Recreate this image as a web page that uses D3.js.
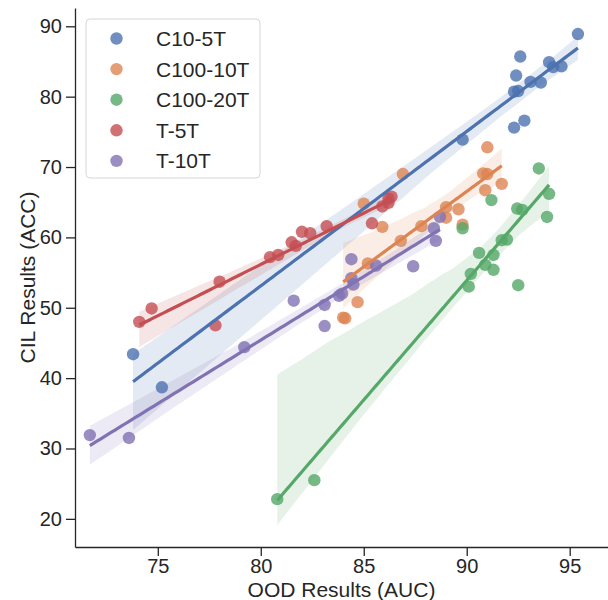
<!DOCTYPE html>
<html>
<head>
<meta charset="utf-8">
<script src="https://cdn.jsdelivr.net/npm/d3@7"></script>
<style>
  body { margin: 0; background: #fff; }
  svg { display: block; font-family: "Liberation Sans", Arial, sans-serif; }
</style>
</head>
<body>
<div id="chart"></div>
<script>
// values
const seriesNames = ["C10-5T", "C100-10T", "C100-20T", "T-5T", "T-10T"];
const seriesColors = ["#4C72B0", "#DD8452", "#55A868", "#C44E52", "#8172B3"];

const c10_5tX = [73.8, 75.2, 89.8, 92.3, 92.8, 92.3, 92.5, 92.4, 92.6, 93.1, 93.6, 94.0, 94.2, 94.6, 95.4];
const c10_5tY = [43.4, 38.7, 73.9, 75.6, 76.6, 80.7, 80.8, 83.0, 85.7, 82.1, 82.0, 84.9, 84.2, 84.3, 88.9];

const c100_10tX = [84.0, 84.1, 84.7, 85.2, 85.0, 85.9, 86.8, 86.9, 87.8, 89.0, 89.6, 89.0, 89.8, 90.8, 91.0, 91.0, 90.9, 91.7];
const c100_10tY = [48.6, 48.5, 50.8, 56.3, 64.8, 61.5, 59.5, 69.0, 61.6, 64.3, 64.0, 62.8, 61.8, 69.1, 69.0, 72.8, 66.7, 67.6];

const c100_20tX = [80.8, 82.6, 89.8, 90.1, 90.2, 90.6, 90.9, 91.3, 91.3, 91.2, 91.7, 91.95, 92.5, 92.45, 92.7, 93.5, 94.0, 93.9];
const c100_20tY = [22.8, 25.5, 61.3, 53.0, 54.8, 57.8, 56.1, 57.5, 55.4, 65.3, 59.6, 59.7, 53.2, 64.1, 63.9, 69.8, 66.2, 62.9];

const t5tX = [74.1, 74.7, 78.0, 77.8, 80.45, 80.85, 81.5, 81.7, 82.0, 82.4, 83.2, 85.4, 85.9, 86.2, 86.35, 86.2];
const t5tY = [48.0, 49.9, 53.7, 47.5, 57.2, 57.5, 59.3, 58.8, 60.8, 60.6, 61.6, 62.0, 64.4, 64.9, 65.8, 65.5];

const t10tX = [71.7, 73.6, 79.2, 81.6, 83.1, 83.1, 83.8, 83.95, 84.4, 84.5, 84.4, 85.6, 87.4, 88.4, 88.5, 88.7];
const t10tY = [31.9, 31.5, 44.4, 51.0, 50.4, 47.4, 51.7, 52.0, 54.2, 53.3, 56.9, 56.0, 55.9, 61.3, 59.5, 62.9];

const xTicks = [75, 80, 85, 90, 95];
const yTicks = [20, 30, 40, 50, 60, 70, 80, 90];

const seriesX = [c10_5tX, c100_10tX, c100_20tX, t5tX, t10tX];
const seriesY = [c10_5tY, c100_10tY, c100_20tY, t5tY, t10tY];

const series = seriesNames.map((name, i) => ({
    name: name,
    color: seriesColors[i],
    points: seriesX[i].map((x, j) => ({ x: x, y: seriesY[i][j] }))
}));

function ols(points) {
    const mx = d3.mean(points, d => d.x);
    const my = d3.mean(points, d => d.y);
    let sxx = 0, sxy = 0;
    points.forEach(d => { sxx += (d.x - mx) ** 2; sxy += (d.x - mx) * (d.y - my); });
    if (sxx === 0) return null;
    const b = sxy / sxx;
    return { a: my - b * mx, b: b };
}

// regression line + 95% bootstrap band, the way regplot does it (fixed seed)
const rng = d3.randomLcg(0.1234);
function fitLine(points) {
    const n = points.length;
    const fit = ols(points);
    const [x0, x1] = d3.extent(points, d => d.x);
    const grid = d3.range(100).map(i => x0 + (x1 - x0) * i / 99);
    const boots = [];
    for (let k = 0; k < 1000; k++) {
        const sample = d3.range(n).map(() => points[Math.floor(rng() * n)]);
        const f = ols(sample);
        if (f) boots.push(grid.map(x => f.a + f.b * x));
    }
    return grid.map((x, j) => {
        const col = boots.map(r => r[j]).sort(d3.ascending);
        return {
            x: x,
            y: fit.a + fit.b * x,
            lo: d3.quantileSorted(col, 0.025),
            hi: d3.quantileSorted(col, 0.975)
        };
    });
}

const W = 608, H = 600;
const margin = { top: 8, right: 0, bottom: 53, left: 75 };
const ink = "#262626";

const svg = d3.select("#chart").append("svg")
    .attr("width", W)
    .attr("height", H);

const x = d3.scaleLinear().domain([70.98, 96.86]).range([margin.left, W - margin.right]);
const y = d3.scaleLinear().domain([16.0, 92.6]).range([H - margin.bottom, margin.top]);

const fits = series.map(s => fitLine(s.points));

const area = d3.area().x(d => x(d.x)).y0(d => y(d.lo)).y1(d => y(d.hi));
const line = d3.line().x(d => x(d.x)).y(d => y(d.y));

// scatter and bands first (same layer), then the regression lines on top
series.forEach((s, i) => {
    svg.append("g")
        .selectAll("circle")
        .data(s.points)
        .join("circle")
        .attr("cx", d => x(d.x))
        .attr("cy", d => y(d.y))
        .attr("r", 6.2)
        .attr("fill", s.color)
        .attr("fill-opacity", 0.8);

    svg.append("path")
        .datum(fits[i])
        .attr("d", area)
        .attr("fill", s.color)
        .attr("fill-opacity", 0.15);
});

series.forEach((s, i) => {
    svg.append("path")
        .datum(fits[i])
        .attr("d", line)
        .attr("fill", "none")
        .attr("stroke", s.color)
        .attr("stroke-width", 3.2);
});

// axes
const xAxis = svg.append("g")
    .attr("transform", `translate(0,${H - margin.bottom})`)
    .call(d3.axisBottom(x).tickValues(xTicks).tickSize(9).tickSizeOuter(0).tickPadding(3));

const yAxis = svg.append("g")
    .attr("transform", `translate(${margin.left},0)`)
    .call(d3.axisLeft(y).tickValues(yTicks).tickSize(9).tickSizeOuter(0).tickPadding(4));

[xAxis, yAxis].forEach(ax => {
    ax.select(".domain").attr("stroke", ink).attr("stroke-width", 1.3);
    ax.selectAll(".tick line").attr("stroke", ink).attr("stroke-width", 1.3);
    ax.selectAll(".tick text")
        .attr("fill", ink)
        .style("font-size", "20px")
        .style("font-family", '"Liberation Sans", Arial, sans-serif');
});

svg.append("text")
    .attr("x", (margin.left + W - margin.right) / 2)
    .attr("y", 597)
    .attr("text-anchor", "middle")
    .attr("fill", ink)
    .style("font-size", "21px")
    .text("OOD Results (AUC)");

svg.append("text")
    .attr("transform", `translate(35,${(margin.top + H - margin.bottom) / 2}) rotate(-90)`)
    .attr("text-anchor", "middle")
    .attr("fill", ink)
    .style("font-size", "21px")
    .text("CIL Results (ACC)");

// legend
const legend = svg.append("g").attr("transform", "translate(86,19)");
legend.append("rect")
    .attr("width", 174)
    .attr("height", 159)
    .attr("rx", 4)
    .attr("fill", "#fff")
    .attr("fill-opacity", 0.8)
    .attr("stroke", "#d6d6d6")
    .attr("stroke-width", 1);

const items = legend.selectAll(".item")
    .data(series)
    .join("g")
    .attr("class", "item")
    .attr("transform", (d, i) => `translate(0,${19.5 + i * 30.6})`);

items.append("circle")
    .attr("cx", 30.5)
    .attr("r", 6.2)
    .attr("fill", d => d.color)
    .attr("fill-opacity", 0.8);

items.append("text")
    .attr("x", 70)
    .attr("y", 7.5)
    .attr("fill", ink)
    .style("font-size", "21px")
    .text(d => d.name);
</script>
</body>
</html>
